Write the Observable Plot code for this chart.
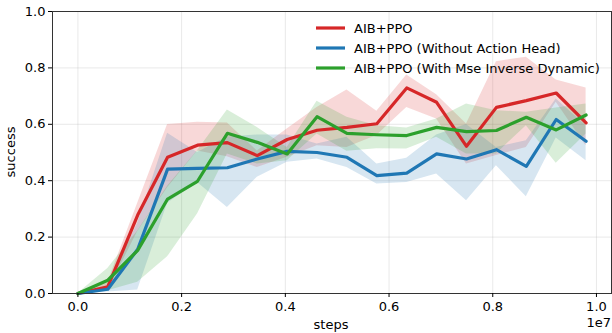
<!DOCTYPE html>
<html>
<head>
<meta charset="utf-8">
<script src="https://cdn.jsdelivr.net/npm/d3@7"></script>
<script src="https://cdn.jsdelivr.net/npm/@observablehq/plot@0.6"></script>
<style>
  html, body { margin: 0; padding: 0; background: #fff; }
  #chart { width: 612px; height: 333px; }
</style>
</head>
<body>
<div id="chart"></div>
<script>
const steps = [0, 576471, 1152941, 1729412, 2305882, 2882353, 3458824, 4035294, 4611765, 5188235, 5764706, 6341176, 6917647, 7494118, 8070588, 8647059, 9223529, 9800000];

const seriesNames = ["AIB+PPO", "AIB+PPO (Without Action Head)", "AIB+PPO (With Mse Inverse Dynamic)"];
const seriesColors = ["#d62728", "#1f77b4", "#2ca02c"];

const aibMean = [0, 0.024, 0.278, 0.483, 0.526, 0.535, 0.489, 0.546, 0.579, 0.589, 0.602, 0.729, 0.678, 0.522, 0.660, 0.684, 0.711, 0.605];
const aibLow  = [0, 0.010, 0.220, 0.375, 0.505, 0.485, 0.447, 0.483, 0.524, 0.518, 0.560, 0.660, 0.619, 0.459, 0.489, 0.518, 0.678, 0.524];
const aibHigh = [0, 0.040, 0.320, 0.599, 0.607, 0.605, 0.505, 0.583, 0.660, 0.722, 0.646, 0.775, 0.705, 0.601, 0.822, 0.838, 0.757, 0.729];

const noHeadMean = [0, 0.015, 0.157, 0.441, 0.444, 0.446, 0.477, 0.504, 0.500, 0.483, 0.418, 0.427, 0.495, 0.477, 0.510, 0.451, 0.617, 0.540];
const noHeadLow  = [0, 0.005, 0.012, 0.320, 0.394, 0.305, 0.412, 0.465, 0.477, 0.447, 0.388, 0.394, 0.424, 0.329, 0.453, 0.343, 0.551, 0.471];
const noHeadHigh = [0, 0.025, 0.250, 0.568, 0.500, 0.555, 0.562, 0.562, 0.530, 0.554, 0.459, 0.480, 0.562, 0.599, 0.518, 0.542, 0.690, 0.595];

const mseMean = [0, 0.047, 0.153, 0.335, 0.398, 0.568, 0.536, 0.495, 0.627, 0.568, 0.563, 0.560, 0.589, 0.574, 0.578, 0.625, 0.580, 0.633];
const mseLow  = [0, 0.010, 0.040, 0.130, 0.282, 0.495, 0.459, 0.471, 0.566, 0.504, 0.513, 0.512, 0.554, 0.495, 0.495, 0.595, 0.462, 0.566];
const mseHigh = [0, 0.089, 0.222, 0.380, 0.506, 0.651, 0.589, 0.518, 0.682, 0.625, 0.595, 0.587, 0.619, 0.672, 0.648, 0.643, 0.658, 0.672];

const xTicks = [0, 2000000, 4000000, 6000000, 8000000, 10000000];
const yTicks = [0, 0.2, 0.4, 0.6, 0.8, 1.0];

const means = [aibMean, noHeadMean, mseMean];
const lows = [aibLow, noHeadLow, mseLow];
const highs = [aibHigh, noHeadHigh, mseHigh];

const rows = [];
seriesNames.forEach((name, s) => {
  steps.forEach((x, i) => {
    rows.push({series: name, x, mean: means[s][i], low: lows[s][i], high: highs[s][i]});
  });
});

const font = "'DejaVu Sans', sans-serif";

const chart = Plot.plot({
  width: 612,
  height: 333,
  marginLeft: 52,
  marginRight: 1,
  marginTop: 11,
  marginBottom: 40,
  style: {fontFamily: font, fontSize: "13px", color: "#000", background: "#fff"},
  x: {domain: [-490000, 10290000], label: null},
  y: {domain: [0, 1], label: null},
  color: {domain: seriesNames, range: seriesColors},
  marks: [
    Plot.gridX(xTicks, {stroke: "#b0b0b0", strokeOpacity: 0.35, strokeWidth: 0.8}),
    Plot.gridY(yTicks, {stroke: "#b0b0b0", strokeOpacity: 0.35, strokeWidth: 0.8}),
    Plot.areaY(rows, {x: "x", y1: "low", y2: "high", fill: "series", fillOpacity: 0.18, curve: "linear"}),
    Plot.lineY(rows, {x: "x", y: "mean", stroke: "series", strokeWidth: 3.2, curve: "linear"}),
    Plot.frame({stroke: "#333", strokeWidth: 1}),
    Plot.axisX(xTicks, {tickFormat: d => (d / 1e7).toFixed(1), tickSize: 4, tickPadding: 4, label: null}),
    Plot.axisY(yTicks, {tickFormat: d => d.toFixed(1), tickSize: 4, tickPadding: 3, label: null})
  ]
});

document.getElementById("chart").appendChild(chart);

// axis titles and legend
const svg = d3.select(chart);
svg.append("text")
  .attr("x", 331).attr("y", 329)
  .attr("text-anchor", "middle")
  .style("font-family", font).style("font-size", "13px")
  .text("steps");
svg.append("text")
  .attr("x", 611).attr("y", 327)
  .attr("text-anchor", "end")
  .style("font-family", font).style("font-size", "13px")
  .text("1e7");
svg.append("text")
  .attr("transform", "translate(15,152) rotate(-90)")
  .attr("text-anchor", "middle")
  .style("font-family", font).style("font-size", "13px")
  .text("success");

const legend = svg.append("g").attr("text-anchor", "start");
seriesNames.forEach((name, i) => {
  const y = 28 + i * 20;
  legend.append("line")
    .attr("x1", 316).attr("x2", 345).attr("y1", y).attr("y2", y)
    .attr("stroke", seriesColors[i]).attr("stroke-width", 3.2);
  legend.append("text")
    .attr("x", 354).attr("y", y).attr("dy", "0.35em")
    .attr("text-anchor", "start")
    .style("font-family", font).style("font-size", "13px")
    .text(name);
});
</script>
</body>
</html>
